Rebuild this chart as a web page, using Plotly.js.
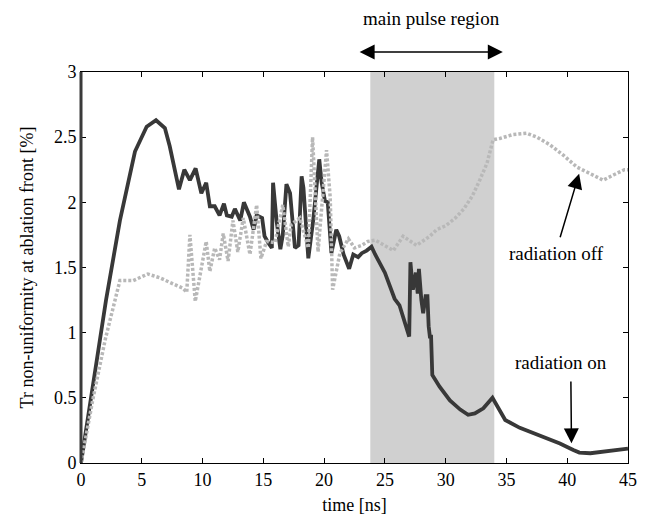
<!DOCTYPE html>
<html>
<head>
<meta charset="utf-8">
<script src="https://cdn.plot.ly/plotly-3.0.1.min.js"></script>
<style>html,body{margin:0;padding:0;background:#fff;}#chart{width:658px;height:516px;}</style>
</head>
<body>
<div id="chart"></div>
<script>
// radiation on (solid dark line)
const timeOn = [0,1.0,2.06,3.2,4.44,5.4,6.17,6.9,7.3,8.06,8.5,8.96,9.43,9.9,10.3,10.6,11.0,11.4,11.76,12.0,12.4,12.66,12.9,13.1,13.4,13.9,14.2,14.45,14.9,15.1,15.4,15.7,15.8,16.1,16.4,16.6,16.9,17.2,17.6,17.9,18.15,18.3,18.7,19.1,19.6,19.8,20.07,20.3,20.6,21.0,21.24,21.6,22.06,22.4,22.8,23.1,23.5,23.9,24.2,25.0,25.8,26.2,27.0,27.1,27.3,27.55,27.7,27.8,28.0,28.15,28.35,28.5,28.6,28.7,28.8,28.9,29.5,30.35,31.2,31.85,32.4,33.1,33.85,34.3,34.9,36.1,37.2,38.3,39.4,40.5,41.0,41.9,42.95,44.05,45.0];
const trOn = [0,0.6,1.25,1.86,2.39,2.58,2.63,2.57,2.43,2.10,2.25,2.17,2.26,2.07,2.15,1.97,1.97,1.90,1.99,1.90,1.89,1.95,1.90,1.86,2.0,1.89,1.79,1.90,1.88,1.74,1.69,1.65,2.15,1.85,1.64,1.75,2.14,2.07,1.65,1.67,2.20,2.11,1.57,1.86,2.33,2.15,2.01,2.0,1.61,1.79,1.74,1.60,1.49,1.60,1.58,1.61,1.63,1.66,1.60,1.46,1.26,1.21,0.97,1.54,1.33,1.46,1.30,1.49,1.25,1.15,1.28,1.28,1.05,0.97,0.97,0.675,0.585,0.48,0.41,0.37,0.38,0.42,0.50,0.43,0.33,0.27,0.23,0.19,0.15,0.10,0.08,0.075,0.087,0.10,0.11];
// radiation off (dotted grey line)
const timeOff = [0,1.0,2.0,2.8,3.2,4.3,5.5,6.5,7.5,8.4,8.7,8.96,9.4,10.3,10.6,11.0,11.4,11.7,12.1,12.5,12.9,13.35,13.9,14.45,14.8,15.27,15.95,16.6,17.05,17.3,18.0,18.7,19.05,19.5,20.2,20.5,20.7,21.3,22.0,22.5,23.1,23.6,24.2,24.6,25.7,26.5,27.6,28.7,29.25,30.0,30.8,31.5,32.2,32.8,33.4,33.9,34.45,35.55,36.65,37.5,38.6,39.7,40.8,41.9,42.95,43.8,44.7,45.0];
const trOff = [0,0.5,0.95,1.25,1.40,1.40,1.45,1.42,1.38,1.34,1.31,1.75,1.24,1.70,1.47,1.65,1.56,1.76,1.55,1.86,1.62,1.88,1.60,1.98,1.57,1.70,1.69,1.98,1.66,1.83,1.88,1.65,2.50,1.62,2.40,2.04,1.33,1.61,1.72,1.65,1.67,1.70,1.71,1.69,1.63,1.74,1.67,1.74,1.79,1.82,1.88,1.95,2.05,2.17,2.30,2.48,2.49,2.52,2.53,2.50,2.44,2.36,2.27,2.22,2.17,2.21,2.25,2.25];
// main pulse region
const pulseStart = 23.8, pulseEnd = 34.0;
const xTicks = [0,5,10,15,20,25,30,35,40,45];
const yTicks = [0,0.5,1,1.5,2,2.5,3];
const yTickText = ['0','0.5','1','1.5','2','2.5','3'];

const fam = '"Liberation Serif", "DejaVu Serif", serif';
const tickFont = {family: fam, size: 18, color: '#000000'};
const titleFont = {family: fam, size: 18, color: '#000000'};
const annFont = {family: fam, size: 19, color: '#000000'};

const traces = [
  {x: timeOn, y: trOn, mode: 'lines', line: {color: '#383838', width: 3.8}, hoverinfo: 'skip'},
  {x: timeOff, y: trOff, mode: 'lines', line: {color: '#b8b8b8', width: 3.5, dash: '3px,2px'}, hoverinfo: 'skip'}
];

const arrowStyle = {showarrow: true, arrowhead: 2, arrowsize: 2, arrowwidth: 1.5, arrowcolor: '#000', text: ''};
const layout = {
  width: 658, height: 516,
  margin: {l: 81, r: 30, t: 72, b: 53},
  paper_bgcolor: '#fff', plot_bgcolor: '#fff',
  showlegend: false,
  font: tickFont,
  xaxis: {
    range: [0, 45], tickvals: xTicks, ticktext: xTicks.map(String),
    ticks: 'inside', ticklen: 5, tickcolor: '#000', mirror: 'ticks',
    showline: true, linecolor: '#000', linewidth: 1,
    showgrid: false, zeroline: false, tickfont: tickFont,
    title: {text: 'time [ns]', font: titleFont, standoff: 9}
  },
  yaxis: {
    range: [0, 3], tickvals: yTicks, ticktext: yTickText,
    ticks: 'inside', ticklen: 5, tickcolor: '#000', mirror: 'ticks',
    showline: true, linecolor: '#000', linewidth: 1,
    showgrid: false, zeroline: false, tickfont: tickFont,
    title: {text: 'Tr non-uniformity at ablation front [%]', font: titleFont, standoff: 15}
  },
  shapes: [
    {type: 'rect', xref: 'x', yref: 'paper', x0: pulseStart, x1: pulseEnd, y0: 0, y1: 1,
     fillcolor: '#d0d0d0', line: {width: 0}, layer: 'below'},
    {type: 'line', xref: 'paper', yref: 'paper', x0: 0, x1: 0, y0: 0, y1: 1,
     line: {color: '#3a3a3a', width: 3}}
  ],
  annotations: [
    {text: 'main pulse region', xref: 'x', yref: 'paper', x: 28.8, y: 1.138,
     showarrow: false, font: annFont, xanchor: 'center', yanchor: 'middle'},
    Object.assign({xref: 'x', yref: 'paper', axref: 'x', ayref: 'paper',
     x: 34.7, y: 1.051, ax: 22.8, ay: 1.051, arrowside: 'end+start', startarrowhead: 2,
     startarrowsize: 2, standoff: 0, startstandoff: 0}, arrowStyle),
    {text: 'radiation off', xref: 'x', yref: 'y', x: 39.1, y: 1.61,
     showarrow: false, font: annFont},
    Object.assign({xref: 'x', yref: 'y', axref: 'x', ayref: 'y',
     x: 40.98, y: 2.22, ax: 39.38, ay: 1.72}, arrowStyle),
    {text: 'radiation on', xref: 'x', yref: 'y', x: 39.5, y: 0.77,
     showarrow: false, font: annFont},
    Object.assign({xref: 'x', yref: 'y', axref: 'x', ayref: 'y',
     x: 40.35, y: 0.151, ax: 40.3, ay: 0.637}, arrowStyle)
  ]
};

Plotly.newPlot('chart', traces, layout, {displayModeBar: false, staticPlot: true});
</script>
</body>
</html>
